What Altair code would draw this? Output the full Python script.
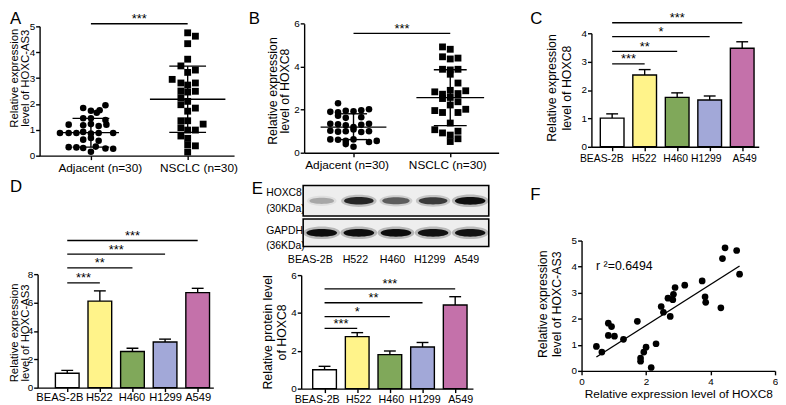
import altair as alt
import pandas as pd

FONT = "Liberation Sans"
W, H = 778, 397

# ---------------- data ----------------
a_groups = ["Adjacent (n=30)", "NSCLC (n=30)"]

# A: HOXC-AS3 in tissues
a_adj_vals = [1.95, 1.84, 1.74, 1.66, 1.76, 1.45, 1.45, 1.38, 1.20, 1.18, 1.22, 1.15, 1.20,
              0.88, 0.88, 0.88, 0.92, 0.86, 0.88, 0.88, 0.62, 0.68, 0.58,
              0.33, 0.32, 0.30, 0.35, 0.28, 0.27, 0.15]
a_adj_jit = [0.15, -0.08, 0.0, 0.06, 0.09, -0.08, 0.0, 0.15, -0.23, -0.08, 0.0, 0.08, 0.16,
             -0.32, -0.23, -0.15, -0.08, 0.0, 0.08, 0.23, -0.08, 0.0, 0.08,
             -0.23, -0.15, -0.08, 0.05, 0.15, 0.23, 0.0]
a_ns_vals = [4.75, 4.62, 4.33, 3.73, 3.47, 3.31, 3.22, 2.95, 2.81, 2.81,
             2.73, 2.50, 2.46, 2.49, 2.24, 2.10, 1.97, 1.84, 1.72, 1.35,
             1.35, 1.22, 1.08, 0.99, 0.99, 0.76, 0.67, 0.42, 0.38, 0.14]
a_ns_jit = [0, 0.08, 0, 0, -0.07, 0.08, 0, -0.16, -0.07, 0.08,
            0, -0.07, 0, 0.08, -0.07, 0, -0.07, 0.08, 0, -0.07,
            0, 0.16, -0.07, 0, 0.08, -0.07, 0, 0, 0.08, 0]
a_mean = [0.89, 2.18]
a_sd_lo = [0.33, 0.90]
a_sd_hi = [1.44, 3.46]
a_sig = 5.1

# B: HOXC8 in tissues
b_adj_vals = [2.30, 1.90, 1.88, 1.95, 1.93, 1.97, 2.02, 1.72, 1.62, 1.65,
              1.35, 1.32, 1.28, 1.20, 1.30, 1.35, 1.02, 0.98, 1.00, 1.08,
              0.96, 1.00, 0.62, 0.60, 0.55, 0.62, 0.50, 0.55, 0.40, 0.28]
b_adj_jit = [-0.16, -0.24, -0.16, -0.08, 0, 0.08, 0.16, -0.16, -0.08, 0.08,
             -0.24, -0.16, -0.08, 0, 0.08, 0.16, -0.24, -0.16, -0.08, 0,
             0.08, 0.16, -0.24, -0.16, -0.08, 0, 0.16, 0.24, -0.08, 0]
b_ns_vals = [4.92, 4.81, 4.46, 4.36, 4.40, 3.88, 3.85, 3.88, 3.65, 3.24,
             2.83, 2.72, 2.90, 2.75, 2.88, 2.52, 2.57, 2.37, 2.22, 1.96,
             1.87, 1.87, 2.02, 1.38, 1.07, 0.92, 0.82, 1.00, 0.65, 0.52]
b_ns_jit = [-0.08, 0, -0.08, 0, 0.08, -0.08, 0, 0.08, 0, 0.08,
            -0.16, -0.08, 0, 0.08, 0.16, -0.08, 0, 0.08, 0, -0.16,
            -0.08, 0.08, 0.16, 0, -0.16, -0.08, 0, 0.08, 0.08, 0]
b_mean = [1.19, 2.56]
b_sd_lo = [0.61, 1.26]
b_sd_hi = [1.81, 3.86]
b_sig = 5.55

# bar panels
cells = ["BEAS-2B", "H522", "H460", "H1299", "A549"]
bar_colors = ["#FFFFFF", "#FFF38A", "#80A85A", "#A2A8D8", "#C471AA"]

c_vals = [1.01, 2.53, 1.74, 1.65, 3.47]
c_tops = [1.16, 2.72, 1.90, 1.79, 3.70]
c_sig_to = [1, 2, 3, 4]
c_sig_y = [2.92, 3.36, 3.88, 4.37]
c_sig_lab = ["***", "**", "*", "***"]

d_vals = [1.02, 6.10, 2.55, 3.22, 6.70]
d_tops = [1.22, 6.82, 2.78, 3.42, 7.00]
d_sig_to = [1, 2, 3, 4]
d_sig_y = [7.39, 8.44, 9.41, 10.37]
d_sig_lab = ["***", "**", "***", "***"]

e_vals = [1.00, 2.75, 1.80, 2.20, 4.42]
e_tops = [1.18, 2.96, 1.99, 2.44, 4.86]
e_sig_to = [1, 2, 3, 4]
e_sig_y = [3.18, 3.81, 4.54, 5.27]
e_sig_lab = ["***", "*", "**", "***"]

# western blot (relative band intensity)
blot_rows = ["HOXC8", "GAPDH"]
blot_mw = ["(30KDa)", "(36KDa)"]
hoxc8_int = [0.25, 0.80, 0.55, 0.70, 0.92]
gapdh_int = [0.93, 0.93, 0.93, 0.91, 0.90]

# F: correlation
f_x = [0.46, 0.63, 0.83, 0.93, 0.83, 1.02, 1.30, 1.73, 1.83, 1.83,
       1.93, 2.00, 2.16, 2.31, 2.47, 2.54, 2.75, 2.68, 2.83, 2.85,
       2.90, 3.20, 3.74, 3.83, 3.85, 4.32, 4.37, 4.45, 4.81, 4.90]
f_y = [0.94, 0.72, 1.83, 1.70, 1.36, 1.33, 1.21, 1.90, 0.49, 0.37,
       0.72, 0.91, 0.13, 1.04, 2.47, 2.25, 2.09, 2.79, 2.73, 2.94,
       3.20, 3.29, 3.45, 2.84, 2.63, 2.42, 4.31, 4.72, 4.62, 3.71]
f_r2 = "r ²=0.6494"

T1 = "Relative expression"

TICK_FS = 10


# ---------------- helpers ----------------
def y_axis(x_px, values, title, line1_x, title_cy, lh, tfs=12.5):
    # multi-line rotated title: first line sits on the anchor, next lines to its right
    return alt.Axis(orient="left", offset=-x_px, values=values, title=title,
                    titleX=line1_x - x_px, titleY=title_cy, titleAngle=270,
                    titleAlign="center", titleBaseline="middle", titleLineHeight=lh,
                    titleFontSize=tfs, labelFontSize=TICK_FS, labelPadding=1, tickSize=4)


def offsets(lab_off):
    cond = [{"test": f"datum.value == {k}", "value": v} for k, v in lab_off.items()]
    return {"condition": cond, "value": 0}


def sig_layers(X, Y, x0, x1, ys, labs):
    df = pd.DataFrame({"x0": x0, "x1": x1, "y": ys, "lab": labs})
    df["xm"] = (df.x0 + df.x1) / 2
    rule = alt.Chart(df).mark_rule(color="black", strokeWidth=1.3).encode(
        x=X("x0:Q"), x2="x1:Q", y=Y("y:Q"))
    txt = alt.Chart(df).mark_text(fontSize=13, baseline="alphabetic", dy=-0.5, font=FONT).encode(
        x=X("xm:Q"), y=Y("y:Q"), text="lab:N")
    return [rule, txt]


def scatter_panel(adj_v, adj_j, ns_v, ns_j, mean, lo, hi, mhalf, chalf, sig_y,
                  xrange, x_first, unit, ydom, yrange, yticks, ytitle, t1x, tcy, lh, tfs,
                  lab_pad, lab_off):
    xs = alt.Scale(domain=[1 + (xrange[0] - x_first) / unit, 1 + (xrange[1] - x_first) / unit],
                   range=xrange, nice=False, zero=False)
    ys = alt.Scale(domain=ydom, range=yrange, nice=False, zero=False)
    xa = alt.Axis(orient="bottom", offset=yrange[0] - H, values=[1, 2], title=None,
                  labelExpr=f"datum.value == 1 ? '{a_groups[0]}' : '{a_groups[1]}'",
                  labelFontSize=12, labelPadding=lab_pad, tickSize=4,
                  labelOffset=offsets(lab_off))
    ya = y_axis(xrange[0], yticks, ytitle, t1x, tcy, lh, tfs)

    def X(f):
        return alt.X(f, scale=xs, axis=xa)

    def Y(f):
        return alt.Y(f, scale=ys, axis=ya)

    adj = pd.DataFrame({"x": [1 + j for j in adj_j], "y": adj_v})
    ns = pd.DataFrame({"x": [2 + j for j in ns_j], "y": ns_v})
    st = pd.DataFrame({"g": [1, 2], "m": mean, "lo": lo, "hi": hi,
                       "mh": mhalf, "ch": chalf})
    st["m0"] = st.g - st.mh
    st["m1"] = st.g + st.mh
    st["c0"] = st.g - st.ch
    st["c1"] = st.g + st.ch

    circ = alt.Chart(adj).mark_circle(size=44, color="black", opacity=1).encode(x=X("x:Q"), y=Y("y:Q"))
    sq = alt.Chart(ns).mark_square(size=48, color="black", opacity=1).encode(x=X("x:Q"), y=Y("y:Q"))
    base = alt.Chart(st).mark_rule(color="black", strokeWidth=1.4)
    mline = base.encode(x=X("m0:Q"), x2="m1:Q", y=Y("m:Q"))
    chi = base.encode(x=X("c0:Q"), x2="c1:Q", y=Y("hi:Q"))
    clo = base.encode(x=X("c0:Q"), x2="c1:Q", y=Y("lo:Q"))
    vert = base.encode(x=X("g:Q"), y=Y("lo:Q"), y2="hi:Q")
    sig = sig_layers(X, Y, [1], [2], [sig_y], ["***"])
    return alt.layer(circ, sq, mline, chi, clo, vert, *sig)


def bar_panel(vals, tops, sig_to, sig_y, sig_lab, xrange, c0, step, ydom, yrange, yticks,
              ytitle, t1x, tcy, lh, tfs, lab_pad, lab_fs, lab_off):
    xs = alt.Scale(domain=[(xrange[0] - c0) / step, (xrange[1] - c0) / step],
                   range=xrange, nice=False, zero=False)
    ys = alt.Scale(domain=ydom, range=yrange, nice=False, zero=True)
    names_js = "[" + ",".join(f"'{n}'" for n in cells) + "]"
    xa = alt.Axis(orient="bottom", offset=yrange[0] - H, values=list(range(len(cells))),
                  labelExpr=f"{names_js}[datum.value]", title=None, labelFontSize=lab_fs,
                  labelPadding=lab_pad, tickSize=4, labelOffset=offsets(lab_off))
    ya = y_axis(xrange[0], yticks, ytitle, t1x, tcy, lh, tfs)

    def X(f):
        return alt.X(f, scale=xs, axis=xa)

    def Y(f, **kw):
        return alt.Y(f, scale=ys, axis=ya, **kw)

    df = pd.DataFrame({"i": list(range(len(cells))), "name": cells, "v": vals, "top": tops})
    err = alt.Chart(df).mark_rule(color="black", strokeWidth=1.4).encode(
        x=X("i:Q"), y=Y("v:Q"), y2="top:Q")
    cap = alt.Chart(df).mark_tick(orient="horizontal", size=12, thickness=1.4, color="black",
                                  opacity=1).encode(x=X("i:Q"), y=Y("top:Q"))
    bars = alt.Chart(df).mark_bar(size=24, orient="vertical", stroke="black", strokeWidth=1.4,
                                  opacity=1).encode(
        x=X("i:Q"), y=Y("v:Q", stack=None),
        color=alt.Color("name:N", scale=alt.Scale(domain=cells, range=bar_colors), legend=None))
    sig = sig_layers(X, Y, [0] * len(sig_to), sig_to, sig_y, sig_lab)
    return alt.layer(err, cap, bars, *sig)


# ---------------- panels ----------------
panel_a = scatter_panel(a_adj_vals, a_adj_jit, a_ns_vals, a_ns_jit, a_mean, a_sd_lo, a_sd_hi,
                        [0.29, 0.39], [0.19, 0.19], a_sig,
                        [30, 227], 82, 98, [0, 5], [145, 14], [0, 1, 2, 3, 4, 5],
                        [T1, "level of  HOXC-AS3"], 5, 66, 10.5, 11.5, 3, {1: 9, 2: 11})

panel_b = scatter_panel(b_adj_vals, b_adj_jit, b_ns_vals, b_ns_jit, b_mean, b_sd_lo, b_sd_hi,
                        [0.34, 0.35], [0.14, 0.17], b_sig,
                        [298, 495], 348, 98, [0, 6], [142, 11.3], [0, 2, 4, 6],
                        [T1, "level of HOXC8"], 266, 79, 12.5, 12.5, 3.5, {1: -7, 2: -3})

panel_c = bar_panel(c_vals, c_tops, c_sig_to, c_sig_y, c_sig_lab, [589, 758.5], 606, 35,
                    [0, 4], [136, 21], [0, 1, 2, 3, 4], [T1, "level of HOXC8"],
                    548.5, 76, 15, 12.5, 3, 10.5, {0: -11, 1: -1, 2: -2, 3: -4, 4: 2})

panel_d = bar_panel(d_vals, d_tops, d_sig_to, d_sig_y, d_sig_lab, [28, 206], 54.5, 35,
                    [0, 8], [380, 265], [0, 2, 4, 6, 8], [T1, "level of  HOXC-AS3"],
                    5, 324, 10.5, 11.5, 0.5, 11.3, {0: -8, 1: -1, 2: -1})

panel_e_bars = bar_panel(e_vals, e_tops, e_sig_to, e_sig_y, e_sig_lab, [295, 469], 314.8, 35.1,
                         [0, 6], [381, 266], [0, 2, 4, 6], ["Relative protein level", "of HOXC8"],
                         261, 323.5, 14, 12.5, 1, 10.8, {0: -8, 1: 1, 2: 1, 3: 2, 4: 5})

# western blot
bx = alt.Scale(domain=[0, len(cells)], range=[297, 485], nice=False, zero=False)
by = alt.Scale(domain=[0, 2], range=[175.3, 237], nice=False, zero=False)
lane_js = "[" + ",".join(f"'{n}'" for n in cells) + "]"
blot_xa = alt.Axis(orient="bottom", offset=237 - H, values=[i + 0.5 for i in range(len(cells))],
                   labelExpr=f"{lane_js}[floor(datum.value)]", domain=False, ticks=False,
                   tickSize=0, labelPadding=7, labelFontSize=10.8, title=None,
                   labelOffset={"condition": [{"test": "datum.value < 1", "value": -12}], "value": -4})
blot_ya = alt.Axis(orient="left", offset=-297, values=[0.22, 1.46],
                   labelExpr=(f"datum.value < 1 ? ['{blot_rows[0]}','{blot_mw[0]}'] : "
                              f"['{blot_rows[1]}','{blot_mw[1]}']"),
                   domain=False, ticks=False, tickSize=0, labelAlign="left", labelBaseline="middle",
                   labelPadding=38, labelFontSize=10.5, labelLineHeight=16, title=None)
boxes = pd.DataFrame({"row": blot_rows, "x0": [0, 0], "x1": [len(cells)] * 2,
                      "y0": [0, 1.1], "y1": [1, 2]})
bands = pd.DataFrame({
    "lane": [i + 0.5 for i in range(len(cells))] * 2,
    "rowc": [0.5] * len(cells) + [1.55] * len(cells),
    "int": hoxc8_int + gapdh_int,
})
ELL = "M-1,0C-1,-0.34,1,-0.34,1,0C1,0.34,-1,0.34,-1,0Z"
HALO = "M-1.2,0C-1.2,-0.55,1.2,-0.55,1.2,0C1.2,0.55,-1.2,0.55,-1.2,0Z"
box_l = alt.Chart(boxes).mark_rect(fill="#EEEEEE", stroke="black", strokeWidth=1.6).encode(
    x=alt.X("x0:Q", scale=bx, axis=blot_xa), x2="x1:Q",
    y=alt.Y("y0:Q", scale=by, axis=blot_ya), y2="y1:Q")
halo_l = alt.Chart(bands).mark_point(shape=HALO, filled=True, color="black", strokeWidth=0).encode(
    x=alt.X("lane:Q", scale=bx, axis=blot_xa), y=alt.Y("rowc:Q", scale=by, axis=blot_ya),
    size=alt.Size("int:Q", scale=alt.Scale(domain=[0, 1], range=[500, 1000]), legend=None),
    fillOpacity=alt.FillOpacity("int:Q", scale=alt.Scale(domain=[0, 1], range=[0, 0.35]), legend=None))
core_l = alt.Chart(bands).mark_point(shape=ELL, filled=True, color="black", strokeWidth=0).encode(
    x=alt.X("lane:Q", scale=bx, axis=blot_xa), y=alt.Y("rowc:Q", scale=by, axis=blot_ya),
    size=alt.Size("int:Q", scale=alt.Scale(domain=[0, 1], range=[500, 1000]), legend=None),
    opacity=alt.Opacity("int:Q", scale=None))
panel_e_blot = alt.layer(box_l, halo_l, core_l)

# F scatter
fxs = alt.Scale(domain=[0, 6], range=[579, 775], nice=False, zero=False)
fys = alt.Scale(domain=[0, 5], range=[363, 231], nice=False, zero=False)
f_xa = alt.Axis(orient="bottom", offset=363 - H, values=[0, 2, 4, 6],
                title="Relative expression  level of HOXC8",
                titleX=677, titleY=23, titleBaseline="middle", titleAlign="center",
                titleFontSize=12, labelFontSize=TICK_FS, labelPadding=1.5, tickSize=4)
f_ya = y_axis(579, [0, 1, 2, 3, 4, 5], [T1, "level of  HOXC-AS3"], 540, 295, 14)
fdf = pd.DataFrame({"x": f_x, "y": f_y})
f_pts = alt.Chart(fdf).mark_circle(size=46, color="black", opacity=1).encode(
    x=alt.X("x:Q", scale=fxs, axis=f_xa), y=alt.Y("y:Q", scale=fys, axis=f_ya))
f_fit = alt.Chart(fdf).transform_regression("x", "y").mark_line(color="black", strokeWidth=1.4).encode(
    x=alt.X("x:Q", scale=fxs, axis=f_xa), y=alt.Y("y:Q", scale=fys, axis=f_ya))
f_lab = alt.Chart(pd.DataFrame({"x": [0.45], "y": [4.02], "t": [f_r2]})).mark_text(
    align="left", baseline="middle", fontSize=12.5, font=FONT).encode(
    x=alt.X("x:Q", scale=fxs, axis=f_xa), y=alt.Y("y:Q", scale=fys, axis=f_ya), text="t:N")
panel_f = alt.layer(f_pts, f_fit, f_lab)

# panel letters
letter_layers = []
for lab, lx, ly in [("A", 0, 12), ("B", 242, 12), ("C", 527, 12),
                    ("D", 0, 182), ("E", 245, 184), ("F", 527, 190)]:
    letter_layers.append(
        alt.Chart(pd.DataFrame({"t": [lab]})).mark_text(
            fontSize=17, align="left", baseline="alphabetic", font=FONT).encode(
            text="t:N", x=alt.value(lx), y=alt.value(ly)))

chart = alt.layer(
    panel_a, panel_b, panel_c, panel_d, panel_e_blot, panel_e_bars, panel_f, *letter_layers
).resolve_scale(x="independent", y="independent").resolve_axis(
    x="independent", y="independent"
).properties(
    width=W, height=H, padding=0, autosize=alt.AutoSizeParams(type="pad")
).configure_view(stroke=None).configure_axis(
    grid=False, domainColor="black", tickColor="black", labelColor="black", titleColor="black",
    labelFont=FONT, titleFont=FONT, titleFontWeight="normal", domainWidth=1.4, tickWidth=1.4,
    labelFlush=False, labelOverlap=False
).configure_text(font=FONT, color="black")

chart.save("out.html", embed_options={"renderer": "svg", "actions": False})
